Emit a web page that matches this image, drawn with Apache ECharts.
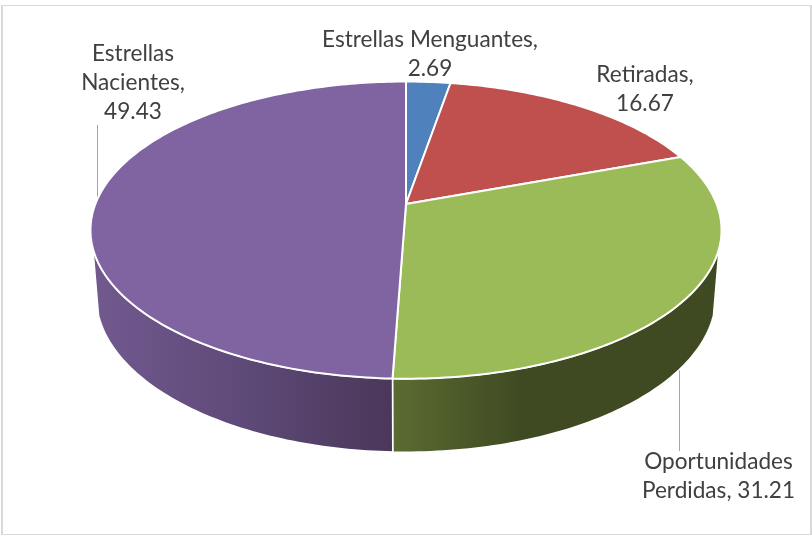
<!DOCTYPE html>
<html>
<head>
<meta charset="utf-8">
<style>html,body{margin:0;padding:0;background:#fff}#c{width:812px;height:536px}</style>
<script src="https://cdn.jsdelivr.net/npm/echarts@6/dist/echarts.min.js"></script>
</head>
<body>
<div id="c"></div>
<script>
var categories = ['Estrellas Menguantes', 'Retiradas', 'Oportunidades Perdidas', 'Estrellas Nacientes'];
var values = [2.69, 16.67, 31.21, 49.43];
var topColors = ['#4f81bd', '#c0504d', '#9bbb59', '#8064a2'];

// Perspective disc geometry
var CX = 406, K = -0.1757, STEP = 1;
var TOP = { cy: 204, a: 144, b: 310.6 };
var BOTTOM = { cy: 268.5, a: 151.4, b: 305 };
var FRONT_FROM = 107, FRONT_TO = 253;
var sideStops = {
  2: [[0, '#5b6c32'], [0.39, '#3f4a22'], [1, '#3f4a22']],
  3: [[0, '#72598f'], [0.5, '#5e4a78'], [1, '#4a3759']]
};

var FONT = 'Lato, sans-serif';
var labelLayout = [
  { x: 430, y: 25, lines: ['{n},', '{v}'] },
  { x: 645, y: 60, lines: ['Retiradas,', '{v}'] },
  { x: 718.5, y: 447, lines: ['Oportunidades', 'Perdidas, {v}'] },
  { x: 133, y: 39, lines: ['Estrellas', 'Nacientes,', '{v}'] }
];

function project(p, deg) {
  var t = deg * Math.PI / 180, u = Math.sin(t), v = -Math.cos(t), d = 1 + K * v;
  return [CX + p.b * u / d, p.cy + p.a * v / d];
}
function arc(p, from, to) {
  var pts = [], n = Math.max(2, Math.ceil(Math.abs(to - from) / STEP));
  for (var i = 0; i <= n; i++) pts.push(project(p, from + (to - from) * i / n));
  return pts;
}
var total = values.reduce(function (a, b) { return a + b; }, 0);

function renderItem(params, api) {
  var idx = params.dataIndex, before = 0;
  for (var i = 0; i < idx; i++) before += values[i];
  var start = before / total * 360, end = (before + api.value(0)) / total * 360;
  var children = [];
  var a = Math.max(start, FRONT_FROM), b = Math.min(end, FRONT_TO);
  if (b > a && sideStops[idx]) {
    children.push({
      type: 'polygon', z2: 1,
      shape: { points: arc(TOP, a, b).concat(arc(BOTTOM, b, a)) },
      style: {
        fill: {
          type: 'linear', x: 0, y: 0, x2: 1, y2: 0,
          colorStops: sideStops[idx].map(function (s) { return { offset: s[0], color: s[1] }; })
        },
        stroke: '#fff', lineWidth: 1.5, lineJoin: 'round'
      }
    });
  }
  children.push({
    type: 'polygon', z2: 2,
    shape: { points: [[CX, TOP.cy]].concat(arc(TOP, start, end)) },
    style: { fill: topColors[idx], stroke: '#fff', lineWidth: 2, lineJoin: 'round' }
  });
  var lay = labelLayout[idx];
  children.push({
    type: 'text', z2: 3, x: lay.x, y: lay.y,
    style: {
      text: lay.lines.join('\n').replace('{n}', categories[idx]).replace('{v}', values[idx]),
      font: '22.6px ' + FONT, fill: '#404040', align: 'center', verticalAlign: 'top', lineHeight: 29
    }
  });
  return { type: 'group', children: children };
}

var chart = echarts.init(document.getElementById('c'), null, { renderer: 'canvas' });
chart.setOption({
  animation: false,
  backgroundColor: '#ffffff',
  graphic: [
    { type: 'rect', z: -1, shape: { x: 1.5, y: 5.5, width: 809, height: 529 }, style: { fill: 'none', stroke: '#d9d9d9', lineWidth: 1 } },
    { type: 'rect', z: -1, shape: { x: 1, y: 5, width: 2, height: 530 }, style: { fill: '#d9d9d9' } },
    { type: 'rect', z: -1, shape: { x: 810, y: 5, width: 2, height: 530 }, style: { fill: '#d9d9d9' } },
    { type: 'line', z: -1, shape: { x1: 97.5, y1: 125, x2: 97.5, y2: 205 }, style: { stroke: '#a6a6a6', lineWidth: 1 } },
    { type: 'line', z: -1, shape: { x1: 679.5, y1: 366, x2: 679.5, y2: 451 }, style: { stroke: '#a6a6a6', lineWidth: 1 } }
  ],
  series: [{
    type: 'custom',
    coordinateSystem: 'none',
    renderItem: renderItem,
    data: values.map(function (v, i) { return { name: categories[i], value: [v] }; })
  }]
});
</script>
</body>
</html>
